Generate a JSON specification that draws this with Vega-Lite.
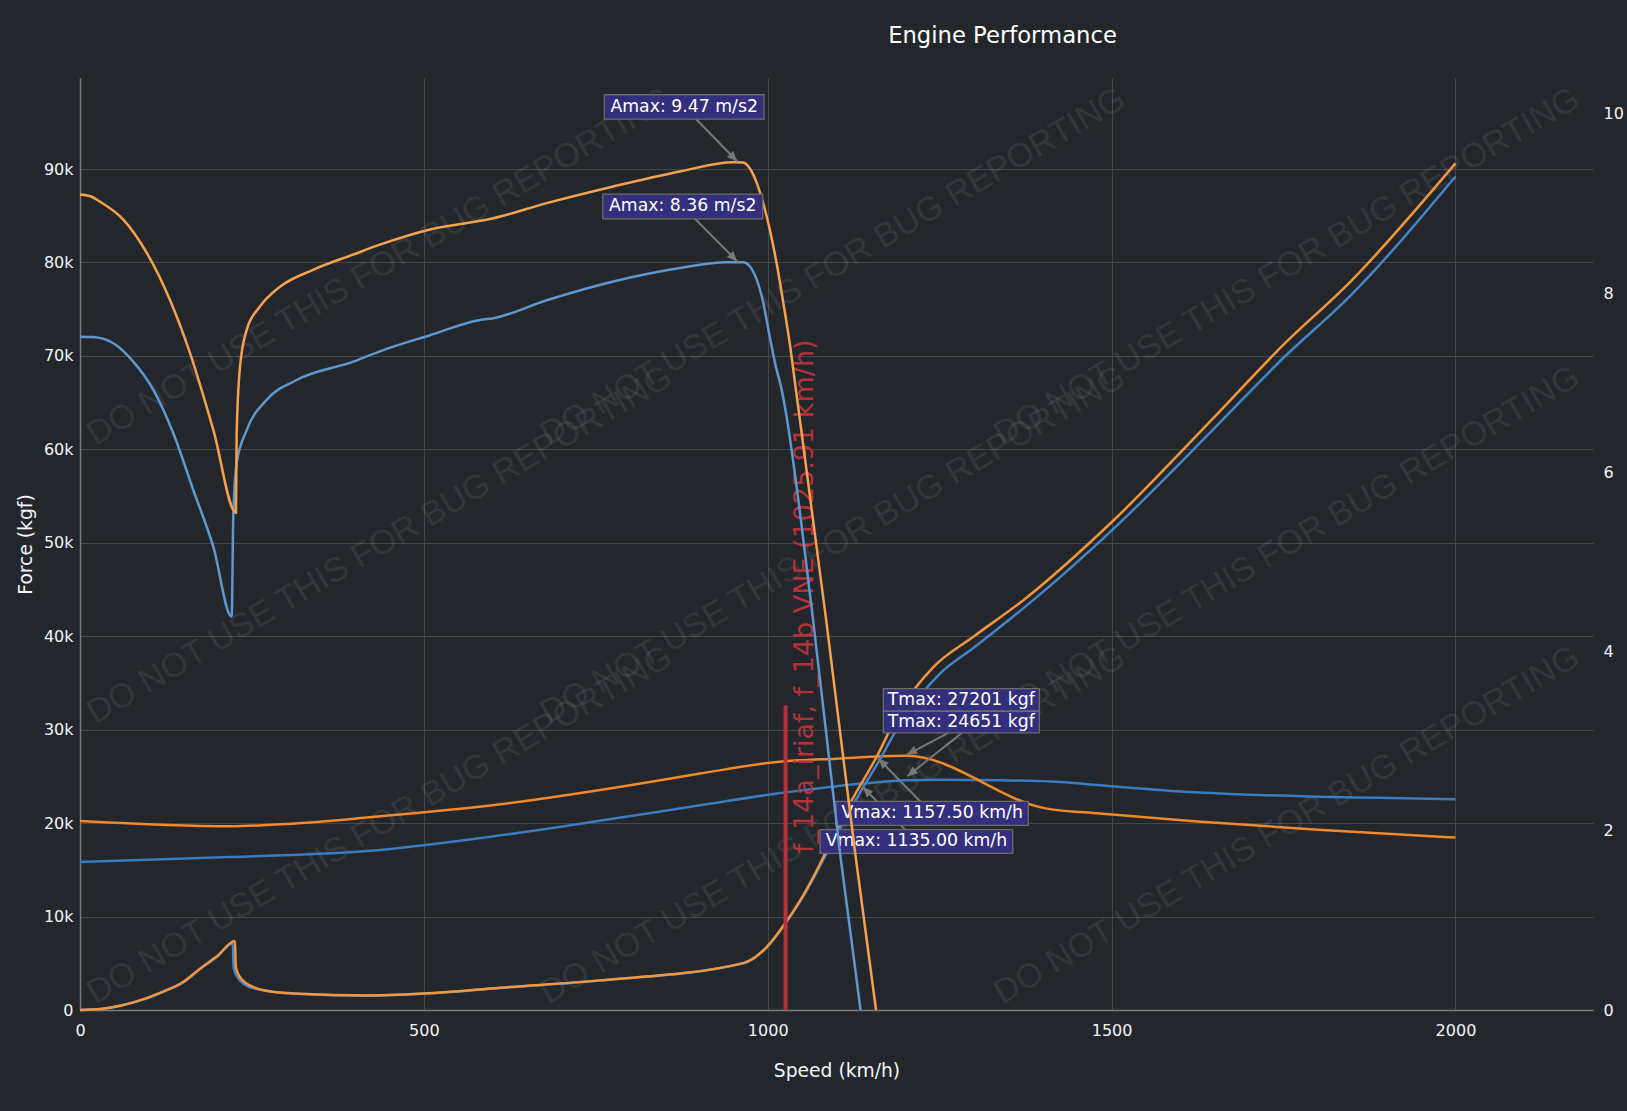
{
  "$schema": "https://vega.github.io/schema/vega-lite/v6.json",
  "width": 1513,
  "height": 932,
  "autosize": {"type": "none"},
  "padding": {"left": 80, "top": 78, "right": 34, "bottom": 101},
  "background": "#23262b",
  "title": {
    "text": "Engine Performance",
    "anchor": "middle",
    "frame": "group",
    "dx": 166,
    "offset": 12,
    "baseline": "alphabetic",
    "font": "DejaVu Sans",
    "fontSize": 22.7,
    "fontWeight": "normal",
    "color": "#ffffff"
  },
  "datasets": {
    "force": [
      {"series": "f_14a_iriaf thrust", "speed": 0, "force": 15840},
      {"series": "f_14a_iriaf thrust", "speed": 218, "force": 16370},
      {"series": "f_14a_iriaf thrust", "speed": 417, "force": 17010},
      {"series": "f_14a_iriaf thrust", "speed": 611, "force": 18690},
      {"series": "f_14a_iriaf thrust", "speed": 760, "force": 20300},
      {"series": "f_14a_iriaf thrust", "speed": 901.6, "force": 21910},
      {"series": "f_14a_iriaf thrust", "speed": 1013, "force": 23160},
      {"series": "f_14a_iriaf thrust", "speed": 1100, "force": 23950},
      {"series": "f_14a_iriaf thrust", "speed": 1202, "force": 24580},
      {"series": "f_14a_iriaf thrust", "speed": 1250, "force": 24651},
      {"series": "f_14a_iriaf thrust", "speed": 1338, "force": 24580},
      {"series": "f_14a_iriaf thrust", "speed": 1425, "force": 24400},
      {"series": "f_14a_iriaf thrust", "speed": 1483, "force": 24050},
      {"series": "f_14a_iriaf thrust", "speed": 1620, "force": 23300},
      {"series": "f_14a_iriaf thrust", "speed": 2000, "force": 22560},
      {"series": "f_14b thrust", "speed": 0, "force": 20220},
      {"series": "f_14b thrust", "speed": 218, "force": 19660},
      {"series": "f_14b thrust", "speed": 300, "force": 19900},
      {"series": "f_14b thrust", "speed": 417, "force": 20590},
      {"series": "f_14b thrust", "speed": 611, "force": 22010},
      {"series": "f_14b thrust", "speed": 800, "force": 24050},
      {"series": "f_14b thrust", "speed": 901.6, "force": 25300},
      {"series": "f_14b thrust", "speed": 1013, "force": 26540},
      {"series": "f_14b thrust", "speed": 1100, "force": 26900},
      {"series": "f_14b thrust", "speed": 1202, "force": 27201},
      {"series": "f_14b thrust", "speed": 1405.6, "force": 21550},
      {"series": "f_14b thrust", "speed": 1483, "force": 21020},
      {"series": "f_14b thrust", "speed": 1620, "force": 20200},
      {"series": "f_14b thrust", "speed": 1800, "force": 19300},
      {"series": "f_14b thrust", "speed": 2000, "force": 18450},
      {"series": "f_14a_iriaf drag", "speed": 0, "force": 0},
      {"series": "f_14a_iriaf drag", "speed": 30, "force": 110},
      {"series": "f_14a_iriaf drag", "speed": 60, "force": 480},
      {"series": "f_14a_iriaf drag", "speed": 87, "force": 1000},
      {"series": "f_14a_iriaf drag", "speed": 120, "force": 1920},
      {"series": "f_14a_iriaf drag", "speed": 150, "force": 2950},
      {"series": "f_14a_iriaf drag", "speed": 174.5, "force": 4380},
      {"series": "f_14a_iriaf drag", "speed": 200, "force": 5750},
      {"series": "f_14a_iriaf drag", "speed": 222, "force": 7150},
      {"series": "f_14a_iriaf drag", "speed": 223.5, "force": 4500},
      {"series": "f_14a_iriaf drag", "speed": 230, "force": 3400},
      {"series": "f_14a_iriaf drag", "speed": 250, "force": 2380},
      {"series": "f_14a_iriaf drag", "speed": 320, "force": 1700},
      {"series": "f_14a_iriaf drag", "speed": 417, "force": 1520},
      {"series": "f_14a_iriaf drag", "speed": 513, "force": 1780},
      {"series": "f_14a_iriaf drag", "speed": 610.7, "force": 2360},
      {"series": "f_14a_iriaf drag", "speed": 756, "force": 3150},
      {"series": "f_14a_iriaf drag", "speed": 964.5, "force": 5000},
      {"series": "f_14a_iriaf drag", "speed": 998.5, "force": 6700},
      {"series": "f_14a_iriaf drag", "speed": 1025, "force": 9200},
      {"series": "f_14a_iriaf drag", "speed": 1047, "force": 11600},
      {"series": "f_14a_iriaf drag", "speed": 1071, "force": 14700},
      {"series": "f_14a_iriaf drag", "speed": 1085.8, "force": 16800},
      {"series": "f_14a_iriaf drag", "speed": 1119.7, "force": 21300},
      {"series": "f_14a_iriaf drag", "speed": 1139, "force": 23870},
      {"series": "f_14a_iriaf drag", "speed": 1158.4, "force": 26200},
      {"series": "f_14a_iriaf drag", "speed": 1192.4, "force": 30650},
      {"series": "f_14a_iriaf drag", "speed": 1250.5, "force": 36000},
      {"series": "f_14a_iriaf drag", "speed": 1300, "force": 38800},
      {"series": "f_14a_iriaf drag", "speed": 1386, "force": 43860},
      {"series": "f_14a_iriaf drag", "speed": 1500, "force": 51300},
      {"series": "f_14a_iriaf drag", "speed": 1650, "force": 62300},
      {"series": "f_14a_iriaf drag", "speed": 1750, "force": 69800},
      {"series": "f_14a_iriaf drag", "speed": 1846.7, "force": 76400},
      {"series": "f_14a_iriaf drag", "speed": 2000, "force": 89200},
      {"series": "f_14b drag", "speed": 0, "force": 0},
      {"series": "f_14b drag", "speed": 30, "force": 110},
      {"series": "f_14b drag", "speed": 60, "force": 480},
      {"series": "f_14b drag", "speed": 87, "force": 1030},
      {"series": "f_14b drag", "speed": 120, "force": 1950},
      {"series": "f_14b drag", "speed": 150, "force": 3000},
      {"series": "f_14b drag", "speed": 174.5, "force": 4420},
      {"series": "f_14b drag", "speed": 200, "force": 5800},
      {"series": "f_14b drag", "speed": 225.4, "force": 7380},
      {"series": "f_14b drag", "speed": 226.5, "force": 4600},
      {"series": "f_14b drag", "speed": 232.7, "force": 3520},
      {"series": "f_14b drag", "speed": 252, "force": 2450},
      {"series": "f_14b drag", "speed": 280, "force": 1950},
      {"series": "f_14b drag", "speed": 320, "force": 1740},
      {"series": "f_14b drag", "speed": 417, "force": 1560},
      {"series": "f_14b drag", "speed": 513, "force": 1810},
      {"series": "f_14b drag", "speed": 610.7, "force": 2390},
      {"series": "f_14b drag", "speed": 756, "force": 3170},
      {"series": "f_14b drag", "speed": 964.5, "force": 5020},
      {"series": "f_14b drag", "speed": 998.5, "force": 6730},
      {"series": "f_14b drag", "speed": 1025, "force": 9240},
      {"series": "f_14b drag", "speed": 1047, "force": 11700},
      {"series": "f_14b drag", "speed": 1071, "force": 14900},
      {"series": "f_14b drag", "speed": 1085.8, "force": 17100},
      {"series": "f_14b drag", "speed": 1119.7, "force": 22100},
      {"series": "f_14b drag", "speed": 1158.4, "force": 27100},
      {"series": "f_14b drag", "speed": 1192.4, "force": 32080},
      {"series": "f_14b drag", "speed": 1240.8, "force": 36700},
      {"series": "f_14b drag", "speed": 1300, "force": 40000},
      {"series": "f_14b drag", "speed": 1371.7, "force": 43860},
      {"series": "f_14b drag", "speed": 1500, "force": 52200},
      {"series": "f_14b drag", "speed": 1650, "force": 63500},
      {"series": "f_14b drag", "speed": 1750, "force": 71200},
      {"series": "f_14b drag", "speed": 1846.7, "force": 77900},
      {"series": "f_14b drag", "speed": 2000, "force": 90600}
    ],
    "accel": [
      {"series": "f_14a_iriaf accel", "speed": 0, "accel": 7.514},
      {"series": "f_14a_iriaf accel", "speed": 19, "accel": 7.51},
      {"series": "f_14a_iriaf accel", "speed": 48.5, "accel": 7.44},
      {"series": "f_14a_iriaf accel", "speed": 77.5, "accel": 7.235},
      {"series": "f_14a_iriaf accel", "speed": 106.6, "accel": 6.92},
      {"series": "f_14a_iriaf accel", "speed": 135.7, "accel": 6.435},
      {"series": "f_14a_iriaf accel", "speed": 164.8, "accel": 5.8},
      {"series": "f_14a_iriaf accel", "speed": 193.8, "accel": 5.17},
      {"series": "f_14a_iriaf accel", "speed": 220.5, "accel": 4.39},
      {"series": "f_14a_iriaf accel", "speed": 223, "accel": 5.54},
      {"series": "f_14a_iriaf accel", "speed": 227.8, "accel": 6.1},
      {"series": "f_14a_iriaf accel", "speed": 242.4, "accel": 6.47},
      {"series": "f_14a_iriaf accel", "speed": 271.5, "accel": 6.81},
      {"series": "f_14a_iriaf accel", "speed": 315, "accel": 7.03},
      {"series": "f_14a_iriaf accel", "speed": 397.4, "accel": 7.235},
      {"series": "f_14a_iriaf accel", "speed": 436, "accel": 7.35},
      {"series": "f_14a_iriaf accel", "speed": 509, "accel": 7.53},
      {"series": "f_14a_iriaf accel", "speed": 581.6, "accel": 7.7},
      {"series": "f_14a_iriaf accel", "speed": 601, "accel": 7.72},
      {"series": "f_14a_iriaf accel", "speed": 678.6, "accel": 7.92},
      {"series": "f_14a_iriaf accel", "speed": 775.5, "accel": 8.13},
      {"series": "f_14a_iriaf accel", "speed": 872.5, "accel": 8.28},
      {"series": "f_14a_iriaf accel", "speed": 940, "accel": 8.345},
      {"series": "f_14a_iriaf accel", "speed": 964.5, "accel": 8.345},
      {"series": "f_14a_iriaf accel", "speed": 974, "accel": 8.3},
      {"series": "f_14a_iriaf accel", "speed": 984, "accel": 8.15},
      {"series": "f_14a_iriaf accel", "speed": 993.6, "accel": 7.89},
      {"series": "f_14a_iriaf accel", "speed": 1003, "accel": 7.51},
      {"series": "f_14a_iriaf accel", "speed": 1010.6, "accel": 7.22},
      {"series": "f_14a_iriaf accel", "speed": 1020.3, "accel": 6.92},
      {"series": "f_14a_iriaf accel", "speed": 1066, "accel": 4.35},
      {"series": "f_14a_iriaf accel", "speed": 1105, "accel": 1.76},
      {"series": "f_14a_iriaf accel", "speed": 1135, "accel": 0},
      {"series": "f_14b accel", "speed": 0, "accel": 9.1},
      {"series": "f_14b accel", "speed": 15, "accel": 9.08},
      {"series": "f_14b accel", "speed": 29, "accel": 9.02},
      {"series": "f_14b accel", "speed": 63, "accel": 8.82},
      {"series": "f_14b accel", "speed": 97, "accel": 8.45},
      {"series": "f_14b accel", "speed": 131, "accel": 7.92},
      {"series": "f_14b accel", "speed": 160, "accel": 7.33},
      {"series": "f_14b accel", "speed": 194, "accel": 6.47},
      {"series": "f_14b accel", "speed": 226.8, "accel": 5.55},
      {"series": "f_14b accel", "speed": 227.8, "accel": 6.43},
      {"series": "f_14b accel", "speed": 232.7, "accel": 7.18},
      {"series": "f_14b accel", "speed": 242.4, "accel": 7.59},
      {"series": "f_14b accel", "speed": 261.7, "accel": 7.85},
      {"series": "f_14b accel", "speed": 290.8, "accel": 8.07},
      {"series": "f_14b accel", "speed": 339, "accel": 8.26},
      {"series": "f_14b accel", "speed": 397.4, "accel": 8.43},
      {"series": "f_14b accel", "speed": 436, "accel": 8.54},
      {"series": "f_14b accel", "speed": 509, "accel": 8.71},
      {"series": "f_14b accel", "speed": 581.6, "accel": 8.806},
      {"series": "f_14b accel", "speed": 601, "accel": 8.836},
      {"series": "f_14b accel", "speed": 678.6, "accel": 9.004},
      {"series": "f_14b accel", "speed": 775.5, "accel": 9.19},
      {"series": "f_14b accel", "speed": 872.5, "accel": 9.357},
      {"series": "f_14b accel", "speed": 950, "accel": 9.46},
      {"series": "f_14b accel", "speed": 964.5, "accel": 9.457},
      {"series": "f_14b accel", "speed": 974, "accel": 9.39},
      {"series": "f_14b accel", "speed": 984, "accel": 9.23},
      {"series": "f_14b accel", "speed": 993.6, "accel": 9.0},
      {"series": "f_14b accel", "speed": 1003, "accel": 8.71},
      {"series": "f_14b accel", "speed": 1013, "accel": 8.33},
      {"series": "f_14b accel", "speed": 1022.7, "accel": 7.89},
      {"series": "f_14b accel", "speed": 1032, "accel": 7.44},
      {"series": "f_14b accel", "speed": 1041, "accel": 6.92},
      {"series": "f_14b accel", "speed": 1085, "accel": 4.35},
      {"series": "f_14b accel", "speed": 1127, "accel": 1.76},
      {"series": "f_14b accel", "speed": 1157.5, "accel": 0}
    ],
    "watermark": [
      {"speed": 436, "force": 79510, "text": "DO NOT USE THIS FOR BUG REPORTING"},
      {"speed": 1095, "force": 79510, "text": "DO NOT USE THIS FOR BUG REPORTING"},
      {"speed": 1755, "force": 79510, "text": "DO NOT USE THIS FOR BUG REPORTING"},
      {"speed": 436, "force": 49730, "text": "DO NOT USE THIS FOR BUG REPORTING"},
      {"speed": 1095, "force": 49730, "text": "DO NOT USE THIS FOR BUG REPORTING"},
      {"speed": 1755, "force": 49730, "text": "DO NOT USE THIS FOR BUG REPORTING"},
      {"speed": 436, "force": 19760, "text": "DO NOT USE THIS FOR BUG REPORTING"},
      {"speed": 1095, "force": 19760, "text": "DO NOT USE THIS FOR BUG REPORTING"},
      {"speed": 1755, "force": 19760, "text": "DO NOT USE THIS FOR BUG REPORTING"}
    ],
    "vne": [
      {"speed": 1025.91, "low": 0, "high": 32600, "label_speed": 1066, "label_force": 44280, "text": "f_14a_iriaf, f_14b VNE (1025.91 km/h)"}
    ],
    "force_arrows": [
      {"name": "Tmax f_14b", "tail_x": 1262.6, "tail_y": 29648, "head_x": 1202.1, "head_y": 27314, "heading": 242.3},
      {"name": "Tmax f_14a_iriaf", "tail_x": 1282.1, "tail_y": 29648, "head_x": 1203, "head_y": 25011, "heading": 231.5},
      {"name": "Vmax f_14b", "tail_x": 1221.5, "tail_y": 22335, "head_x": 1160.8, "head_y": 26907, "heading": 315},
      {"name": "Vmax f_14a_iriaf", "tail_x": 1199.6, "tail_y": 19305, "head_x": 1138.1, "head_y": 23866, "heading": 315}
    ],
    "force_notes": [
      {"label": "Tmax: 27201 kgf", "x1": 1168.1, "x2": 1394.9, "y1": 31971, "y2": 34402, "xc": 1281.5, "yc": 33187},
      {"label": "Tmax: 24651 kgf", "x1": 1168.1, "x2": 1394.9, "y1": 29648, "y2": 31971, "xc": 1281.5, "yc": 30810},
      {"label": "Vmax: 1157.50 km/h", "x1": 1099.3, "x2": 1378.9, "y1": 19765, "y2": 22335, "xc": 1239.1, "yc": 21050},
      {"label": "Vmax: 1135.00 km/h", "x1": 1076.1, "x2": 1356.3, "y1": 16767, "y2": 19305, "xc": 1216.2, "yc": 18036}
    ],
    "accel_arrows": [
      {"name": "Amax f_14b", "tail_x": 895.7, "tail_y": 9.942, "head_x": 955.8, "head_y": 9.468, "heading": 135.7},
      {"name": "Amax f_14a_iriaf", "tail_x": 894.3, "tail_y": 8.829, "head_x": 955.8, "head_y": 8.352, "heading": 135.3}
    ],
    "accel_notes": [
      {"label": "Amax: 9.47 m/s2", "x1": 762.4, "x2": 994.6, "y1": 9.942, "y2": 10.213, "xc": 878.5, "yc": 10.078},
      {"label": "Amax: 8.36 m/s2", "x1": 760.1, "x2": 992.7, "y1": 8.829, "y2": 9.104, "xc": 876.4, "yc": 8.967}
    ]
  },
  "layer": [
    {
      "layer": [
        {
          "data": {"name": "watermark"},
          "mark": {"type": "text", "angle": 329.5, "font": "Liberation Sans", "fontSize": 34, "color": "#ffffff", "opacity": 0.07, "align": "center", "baseline": "middle"},
          "encoding": {
            "x": {
              "field": "speed",
              "type": "quantitative",
              "scale": {"domain": [0, 2200], "nice": false},
              "axis": {
                "title": "Speed (km/h)",
                "values": [0, 500, 1000, 1500, 2000],
                "format": "d",
                "grid": true,
                "labelPadding": 12,
                "titlePadding": 23,
                "labelFlush": false
              }
            },
            "y": {
              "field": "force",
              "type": "quantitative",
              "scale": {"domain": [0, 99740], "nice": false},
              "axis": {
                "orient": "left",
                "title": "Force (kgf)",
                "values": [0, 10000, 20000, 30000, 40000, 50000, 60000, 70000, 80000, 90000],
                "labelExpr": "datum.value == 0 ? '0' : format(datum.value / 1000, 'd') + 'k'",
                "grid": true,
                "labelPadding": 7,
                "titlePadding": 8
              }
            },
            "text": {"field": "text"}
          }
        },
        {
          "data": {"name": "force"},
          "mark": {"type": "line", "strokeWidth": 2.5, "interpolate": "monotone"},
          "encoding": {
            "x": {"field": "speed", "type": "quantitative", "scale": {"domain": [0, 2200], "nice": false}},
            "y": {"field": "force", "type": "quantitative", "scale": {"domain": [0, 99740], "nice": false}},
            "color": {"field": "series", "type": "nominal", "legend": null}
          }
        },
        {
          "data": {"name": "vne"},
          "mark": {"type": "rule", "color": "#b5323c", "strokeWidth": 4},
          "encoding": {
            "x": {"field": "speed", "type": "quantitative", "scale": {"domain": [0, 2200], "nice": false}},
            "y": {"field": "low", "type": "quantitative", "scale": {"domain": [0, 99740], "nice": false}},
            "y2": {"field": "high"}
          }
        },
        {
          "data": {"name": "vne"},
          "mark": {"type": "text", "angle": 270, "align": "center", "baseline": "alphabetic", "font": "DejaVu Sans", "fontSize": 27, "color": "#b5323c"},
          "encoding": {
            "x": {"field": "label_speed", "type": "quantitative", "scale": {"domain": [0, 2200], "nice": false}},
            "y": {"field": "label_force", "type": "quantitative", "scale": {"domain": [0, 99740], "nice": false}},
            "text": {"field": "text"}
          }
        },
        {
          "data": {"name": "force_arrows"},
          "mark": {"type": "rule", "color": "#787878", "strokeWidth": 2},
          "encoding": {
            "x": {"field": "tail_x", "type": "quantitative", "scale": {"domain": [0, 2200], "nice": false}},
            "y": {"field": "tail_y", "type": "quantitative", "scale": {"domain": [0, 99740], "nice": false}},
            "x2": {"field": "head_x"},
            "y2": {"field": "head_y"}
          }
        },
        {
          "data": {"name": "force_arrows"},
          "mark": {"type": "point", "shape": "M0,0L-0.5,1.2L0.5,1.2Z", "filled": true, "size": 300, "color": "#787878", "opacity": 1},
          "encoding": {
            "x": {"field": "head_x", "type": "quantitative", "scale": {"domain": [0, 2200], "nice": false}},
            "y": {"field": "head_y", "type": "quantitative", "scale": {"domain": [0, 99740], "nice": false}},
            "angle": {"field": "heading", "type": "quantitative", "scale": null}
          }
        },
        {
          "data": {"name": "force_notes"},
          "mark": {"type": "rect", "fill": "#342f7c", "stroke": "#6c6c6c", "strokeWidth": 1.3},
          "encoding": {
            "x": {"field": "x1", "type": "quantitative", "scale": {"domain": [0, 2200], "nice": false}},
            "x2": {"field": "x2"},
            "y": {"field": "y1", "type": "quantitative", "scale": {"domain": [0, 99740], "nice": false}},
            "y2": {"field": "y2"}
          }
        },
        {
          "data": {"name": "force_notes"},
          "mark": {"type": "text", "font": "DejaVu Sans", "fontSize": 17.3, "color": "#ffffff", "align": "center", "baseline": "middle"},
          "encoding": {
            "x": {"field": "xc", "type": "quantitative", "scale": {"domain": [0, 2200], "nice": false}},
            "y": {"field": "yc", "type": "quantitative", "scale": {"domain": [0, 99740], "nice": false}},
            "text": {"field": "label"}
          }
        }
      ]
    },
    {
      "layer": [
        {
          "data": {"name": "accel"},
          "mark": {"type": "line", "strokeWidth": 2.5, "interpolate": "monotone"},
          "encoding": {
            "x": {"field": "speed", "type": "quantitative", "scale": {"domain": [0, 2200], "nice": false}},
            "y": {
              "field": "accel",
              "type": "quantitative",
              "scale": {"domain": [0, 10.4], "nice": false},
              "axis": {
                "orient": "right",
                "title": null,
                "values": [0, 2, 4, 6, 8, 10],
                "format": "d",
                "grid": false,
                "domain": false,
                "labelPadding": 10
              }
            },
            "color": {"field": "series", "type": "nominal", "legend": null}
          }
        },
        {
          "data": {"name": "accel_arrows"},
          "mark": {"type": "rule", "color": "#787878", "strokeWidth": 2},
          "encoding": {
            "x": {"field": "tail_x", "type": "quantitative", "scale": {"domain": [0, 2200], "nice": false}},
            "y": {"field": "tail_y", "type": "quantitative", "scale": {"domain": [0, 10.4], "nice": false}},
            "x2": {"field": "head_x"},
            "y2": {"field": "head_y"}
          }
        },
        {
          "data": {"name": "accel_arrows"},
          "mark": {"type": "point", "shape": "M0,0L-0.5,1.2L0.5,1.2Z", "filled": true, "size": 300, "color": "#787878", "opacity": 1},
          "encoding": {
            "x": {"field": "head_x", "type": "quantitative", "scale": {"domain": [0, 2200], "nice": false}},
            "y": {"field": "head_y", "type": "quantitative", "scale": {"domain": [0, 10.4], "nice": false}},
            "angle": {"field": "heading", "type": "quantitative", "scale": null}
          }
        },
        {
          "data": {"name": "accel_notes"},
          "mark": {"type": "rect", "fill": "#342f7c", "stroke": "#6c6c6c", "strokeWidth": 1.3},
          "encoding": {
            "x": {"field": "x1", "type": "quantitative", "scale": {"domain": [0, 2200], "nice": false}},
            "x2": {"field": "x2"},
            "y": {"field": "y1", "type": "quantitative", "scale": {"domain": [0, 10.4], "nice": false}},
            "y2": {"field": "y2"}
          }
        },
        {
          "data": {"name": "accel_notes"},
          "mark": {"type": "text", "font": "DejaVu Sans", "fontSize": 17.3, "color": "#ffffff", "align": "center", "baseline": "middle"},
          "encoding": {
            "x": {"field": "xc", "type": "quantitative", "scale": {"domain": [0, 2200], "nice": false}},
            "y": {"field": "yc", "type": "quantitative", "scale": {"domain": [0, 10.4], "nice": false}},
            "text": {"field": "label"}
          }
        }
      ]
    }
  ],
  "resolve": {"scale": {"y": "independent"}},
  "config": {
    "background": "#23262b",
    "view": {"stroke": null},
    "font": "DejaVu Sans",
    "range": {
      "category": ["#5f97cf", "#4684c8", "#3a7bc1", "#f5a24f", "#f2963e", "#f2882c"]
    },
    "axis": {
      "labelFont": "DejaVu Sans",
      "labelFontSize": 16,
      "labelColor": "#f2f5fa",
      "titleFont": "DejaVu Sans",
      "titleFontSize": 18.7,
      "titleFontWeight": "normal",
      "titleColor": "#f2f5fa",
      "gridColor": "#45474b",
      "gridWidth": 1,
      "domainColor": "#7a7a7a",
      "domainWidth": 1.5,
      "ticks": false
    }
  }
}
